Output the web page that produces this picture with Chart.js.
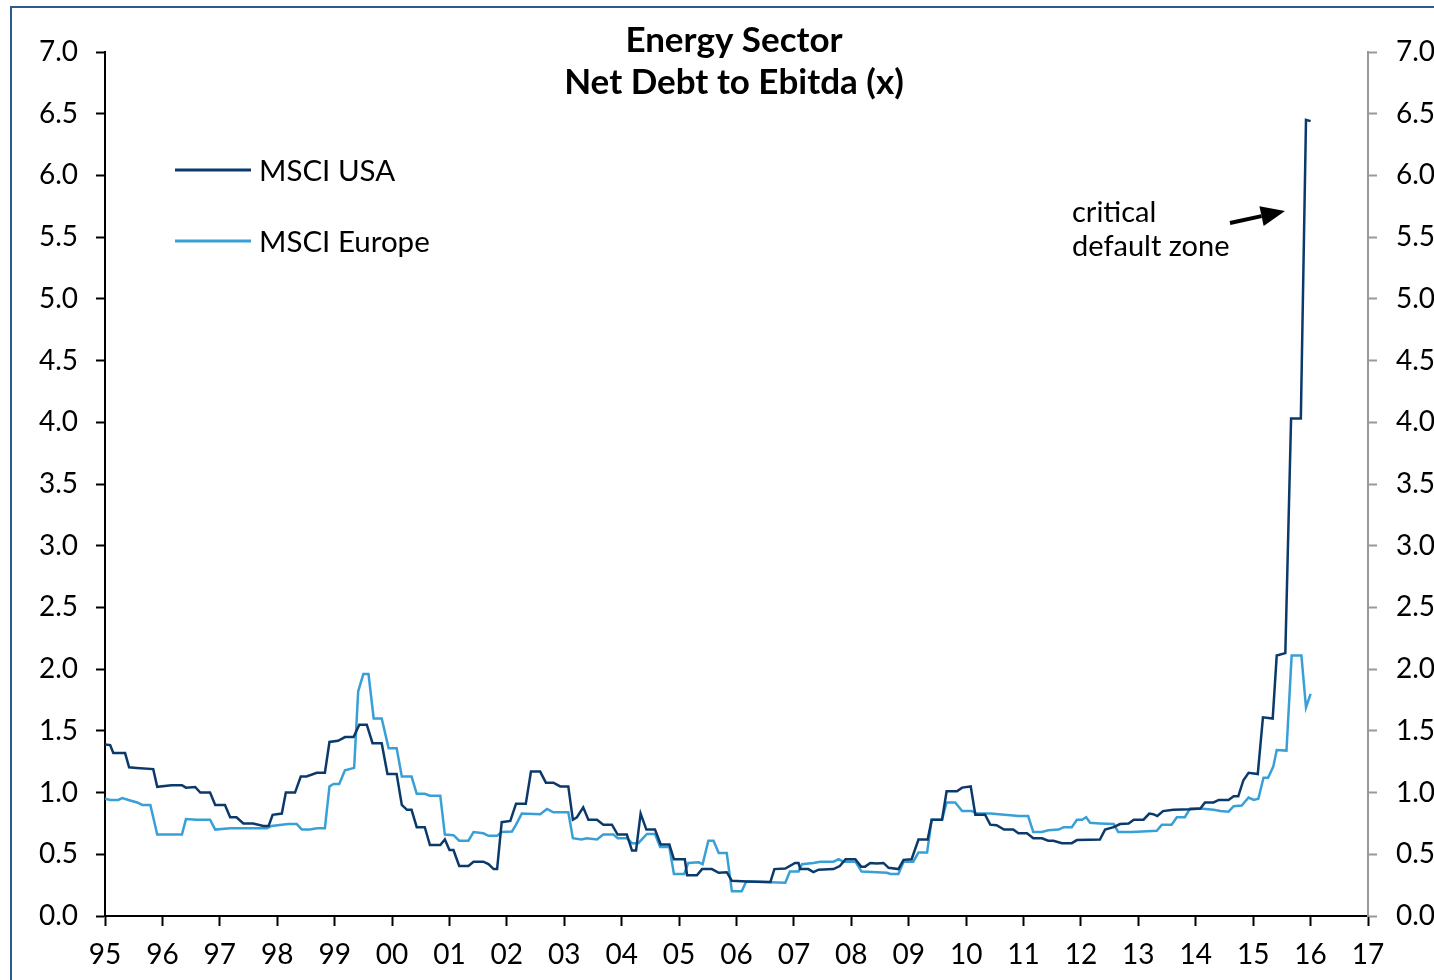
<!DOCTYPE html>
<html>
<head>
<meta charset="utf-8">
<script src="https://cdn.jsdelivr.net/npm/chart.js@4.4.1/dist/chart.umd.min.js"></script>
<style>
  html, body { margin: 0; padding: 0; background: #fff; overflow: hidden; }
  #wrap { position: relative; width: 1434px; height: 980px; }
  #frame { position: absolute; left: 10px; top: 6px; width: 3000px; height: 3000px;
           border: 2px solid #2d5a8c; pointer-events: none; }
  canvas { position: absolute; left: 0; top: 0; }
</style>
</head>
<body>
<div id="wrap">
  <div id="frame"></div>
  <canvas id="c" width="1434" height="980"></canvas>
</div>
<script>
const titleLines = ["Energy Sector", "Net Debt to Ebitda (x)"];
const seriesNames = ["MSCI USA", "MSCI Europe"];
const annotationLines = ["critical", "default zone"];

const usaX = [1995.00,1995.09,1995.145,1995.35,1995.42,1995.55,1995.84,1995.91,1996.16,1996.34,1996.41,1996.57,1996.66,1996.83,1996.92,1997.09,1997.18,1997.29,1997.41,1997.58,1997.76,1997.85,1997.92,1998.08,1998.15,1998.31,1998.41,1998.51,1998.69,1998.83,1998.91,1999.06,1999.18,1999.33,1999.43,1999.56,1999.66,1999.82,1999.92,2000.08,2000.17,2000.26,2000.34,2000.43,2000.57,2000.66,2000.84,2000.92,2001.00,2001.07,2001.17,2001.33,2001.42,2001.59,2001.68,2001.77,2001.83,2001.91,2002.06,2002.16,2002.33,2002.42,2002.58,2002.68,2002.81,2002.93,2003.07,2003.15,2003.22,2003.33,2003.42,2003.57,2003.68,2003.83,2003.93,2004.09,2004.18,2004.25,2004.33,2004.43,2004.58,2004.68,2004.83,2004.91,2005.10,2005.14,2005.31,2005.40,2005.57,2005.69,2005.83,2005.92,2006.18,2006.59,2006.66,2006.85,2007.02,2007.08,2007.11,2007.25,2007.34,2007.43,2007.69,2007.80,2007.90,2008.07,2008.17,2008.24,2008.33,2008.44,2008.56,2008.65,2008.82,2008.91,2009.05,2009.17,2009.33,2009.40,2009.58,2009.66,2009.84,2009.93,2010.08,2010.16,2010.33,2010.42,2010.53,2010.66,2010.82,2010.91,2011.06,2011.17,2011.32,2011.43,2011.52,2011.67,2011.84,2011.93,2012.33,2012.42,2012.57,2012.68,2012.83,2012.92,2013.09,2013.19,2013.26,2013.33,2013.43,2013.61,2013.90,2014.08,2014.16,2014.31,2014.40,2014.57,2014.66,2014.74,2014.83,2014.92,2015.08,2015.17,2015.34,2015.41,2015.56,2015.66,2015.83,2015.92,2016.00];
const usaY = [1.39,1.385,1.32,1.32,1.205,1.20,1.19,1.047,1.06,1.06,1.04,1.045,1.00,1.00,0.90,0.90,0.80,0.80,0.75,0.75,0.73,0.73,0.82,0.83,1.00,1.00,1.13,1.13,1.16,1.16,1.41,1.42,1.45,1.45,1.55,1.55,1.40,1.40,1.15,1.15,0.90,0.86,0.86,0.72,0.72,0.575,0.575,0.62,0.535,0.535,0.405,0.405,0.44,0.44,0.42,0.38,0.38,0.76,0.77,0.91,0.91,1.17,1.17,1.08,1.08,1.05,1.05,0.78,0.80,0.88,0.78,0.78,0.74,0.74,0.66,0.66,0.53,0.53,0.83,0.70,0.70,0.58,0.58,0.46,0.46,0.33,0.33,0.38,0.38,0.35,0.355,0.285,0.28,0.275,0.38,0.385,0.43,0.43,0.38,0.38,0.355,0.375,0.38,0.405,0.46,0.46,0.40,0.40,0.43,0.425,0.43,0.39,0.38,0.455,0.46,0.62,0.62,0.78,0.78,1.01,1.01,1.04,1.05,0.82,0.82,0.74,0.735,0.70,0.70,0.67,0.67,0.63,0.63,0.61,0.61,0.59,0.59,0.615,0.62,0.70,0.72,0.745,0.75,0.78,0.78,0.83,0.825,0.81,0.85,0.86,0.865,0.87,0.92,0.92,0.94,0.94,0.97,0.97,1.10,1.16,1.15,1.61,1.60,2.11,2.13,4.03,4.03,6.45,6.44];

const eurX = [1995.00,1995.09,1995.23,1995.30,1995.41,1995.56,1995.65,1995.79,1995.91,1996.34,1996.41,1996.59,1996.83,1996.92,1997.18,1997.82,1997.90,1998.19,1998.34,1998.43,1998.57,1998.69,1998.83,1998.91,1998.98,1999.08,1999.18,1999.34,1999.41,1999.50,1999.59,1999.68,1999.82,1999.94,2000.08,2000.17,2000.34,2000.43,2000.57,2000.66,2000.84,2000.92,2001.07,2001.17,2001.33,2001.42,2001.59,2001.68,2001.83,2001.91,2002.09,2002.16,2002.26,2002.58,2002.70,2002.81,2003.07,2003.15,2003.30,2003.39,2003.57,2003.68,2003.86,2003.93,2004.09,2004.18,2004.29,2004.44,2004.58,2004.67,2004.83,2004.91,2005.09,2005.16,2005.34,2005.41,2005.51,2005.60,2005.69,2005.83,2005.92,2006.09,2006.17,2006.85,2006.93,2007.08,2007.14,2007.34,2007.46,2007.69,2007.78,2007.86,2008.07,2008.18,2008.62,2008.68,2008.82,2008.91,2009.08,2009.17,2009.32,2009.40,2009.58,2009.66,2009.81,2009.93,2010.10,2010.19,2010.42,2010.82,2010.91,2011.08,2011.17,2011.32,2011.43,2011.61,2011.70,2011.84,2011.93,2012.02,2012.09,2012.16,2012.33,2012.57,2012.65,2012.89,2013.32,2013.41,2013.58,2013.67,2013.81,2013.90,2014.08,2014.31,2014.43,2014.57,2014.66,2014.80,2014.92,2015.01,2015.09,2015.18,2015.26,2015.35,2015.41,2015.58,2015.67,2015.84,2015.92,2016.00];
const eurY = [0.95,0.94,0.94,0.955,0.94,0.92,0.90,0.90,0.66,0.66,0.785,0.78,0.78,0.70,0.71,0.71,0.73,0.745,0.745,0.70,0.70,0.71,0.71,1.05,1.07,1.07,1.18,1.20,1.82,1.96,1.96,1.60,1.60,1.36,1.36,1.13,1.13,0.99,0.99,0.975,0.975,0.66,0.655,0.61,0.61,0.68,0.67,0.65,0.65,0.68,0.685,0.74,0.83,0.825,0.867,0.84,0.84,0.63,0.62,0.63,0.62,0.66,0.66,0.63,0.63,0.59,0.59,0.665,0.665,0.56,0.56,0.34,0.34,0.43,0.435,0.42,0.61,0.61,0.51,0.51,0.20,0.20,0.28,0.27,0.36,0.36,0.42,0.43,0.44,0.44,0.46,0.44,0.44,0.36,0.35,0.34,0.34,0.44,0.44,0.515,0.515,0.78,0.78,0.92,0.92,0.85,0.85,0.83,0.83,0.815,0.81,0.81,0.68,0.68,0.695,0.70,0.72,0.72,0.78,0.78,0.80,0.755,0.75,0.745,0.68,0.68,0.69,0.74,0.74,0.80,0.80,0.87,0.87,0.86,0.85,0.845,0.89,0.895,0.96,0.94,0.95,1.12,1.12,1.21,1.345,1.34,2.11,2.11,1.69,1.80];

const xMin = 1995, xMax = 2017;
const yMin = 0, yMax = 7, yStep = 0.5;

const USA_COLOR = '#0b3a6a';
const EUR_COLOR = '#38a0d6';
const FONT = 'Lato, "Open Sans", sans-serif';

const toPts = (xs, ys) => xs.map((x, i) => ({ x: x, y: ys[i] }));

const overlay = {
  id: 'overlay',
  afterDraw(chart) {
    const ctx = chart.ctx;
    ctx.save();
    // title
    ctx.fillStyle = '#000';
    ctx.font = 'bold 35px ' + FONT;
    ctx.textAlign = 'center';
    ctx.textBaseline = 'middle';
    ctx.fillText(titleLines[0], 734, 41);
    ctx.fillText(titleLines[1], 734, 83);
    // legend
    const legY = [170, 241];
    chart.data.datasets.forEach((ds, i) => {
      ctx.strokeStyle = ds.borderColor;
      ctx.lineWidth = 3;
      ctx.beginPath();
      ctx.moveTo(175, legY[i]);
      ctx.lineTo(251, legY[i]);
      ctx.stroke();
      ctx.fillStyle = '#000';
      ctx.font = '29.5px ' + FONT;
      ctx.textAlign = 'left';
      ctx.textBaseline = 'middle';
      ctx.fillText(ds.label, 259, legY[i] + 1);
    });
    // annotation
    ctx.font = '29px ' + FONT;
    ctx.textAlign = 'left';
    ctx.textBaseline = 'middle';
    ctx.fillText(annotationLines[0], 1072, 213);
    ctx.fillText(annotationLines[1], 1072, 247);
    // arrow
    const x0 = 1230, y0 = 223, x1 = 1285, y1 = 211;
    const ang = Math.atan2(y1 - y0, x1 - x0);
    const headLen = 24, headW = 10;
    const bx = x1 - headLen * Math.cos(ang), by = y1 - headLen * Math.sin(ang);
    ctx.strokeStyle = '#000';
    ctx.lineWidth = 4;
    ctx.beginPath();
    ctx.moveTo(x0, y0);
    ctx.lineTo(bx, by);
    ctx.stroke();
    ctx.fillStyle = '#000';
    ctx.beginPath();
    ctx.moveTo(x1, y1);
    ctx.lineTo(bx + headW * Math.sin(ang), by - headW * Math.cos(ang));
    ctx.lineTo(bx - headW * Math.sin(ang), by + headW * Math.cos(ang));
    ctx.closePath();
    ctx.fill();
    ctx.restore();
  }
};

new Chart(document.getElementById('c'), {
  type: 'line',
  data: {
    datasets: [
      { label: seriesNames[0], data: toPts(usaX, usaY), borderColor: USA_COLOR, borderWidth: 2.5,
        pointRadius: 0, tension: 0, fill: false, yAxisID: 'y', order: 1 },
      { label: seriesNames[1], data: toPts(eurX, eurY), borderColor: EUR_COLOR, borderWidth: 2.5,
        pointRadius: 0, tension: 0, fill: false, yAxisID: 'y', order: 2 }
    ]
  },
  options: {
    responsive: false,
    animation: false,
    layout: { padding: { top: 52, left: 0, right: 0, bottom: 0 } },
    plugins: { legend: { display: false }, title: { display: false }, tooltip: { enabled: false } },
    scales: {
      x: {
        type: 'linear', min: xMin, max: xMax,
        afterFit(s) { s.height = 64; },
        afterBuildTicks(s) { s.ticks = []; for (let v = xMin; v <= xMax; v++) s.ticks.push({ value: v }); },
        ticks: { stepSize: 1, autoSkip: false, maxRotation: 0, color: '#000', padding: 12,
                 font: { family: FONT, size: 28 },
                 callback: v => String(Math.round(v)).slice(-2) },
        grid: { drawOnChartArea: false, drawTicks: true, tickLength: 10, tickColor: '#000', tickWidth: 2 },
        border: { display: true, color: '#000', width: 2 }
      },
      y: {
        position: 'left', min: yMin, max: yMax,
        afterFit(s) { s.width = 105; },
        ticks: { stepSize: yStep, color: '#000', padding: 18, font: { family: FONT, size: 28 },
                 callback: v => Number(v).toFixed(1) },
        grid: { drawOnChartArea: false, drawTicks: true, tickLength: 9, tickColor: '#000', tickWidth: 2 },
        border: { display: true, color: '#000', width: 2 }
      },
      y2: {
        position: 'right', min: yMin, max: yMax,
        afterFit(s) { s.width = 66; },
        ticks: { stepSize: yStep, color: '#000', padding: 19, font: { family: FONT, size: 28 },
                 callback: v => Number(v).toFixed(1) },
        grid: { drawOnChartArea: false, drawTicks: true, tickLength: 9, tickColor: '#999', tickWidth: 2 },
        border: { display: true, color: '#999', width: 2 }
      }
    }
  },
  plugins: [overlay]
});
</script>
</body>
</html>
